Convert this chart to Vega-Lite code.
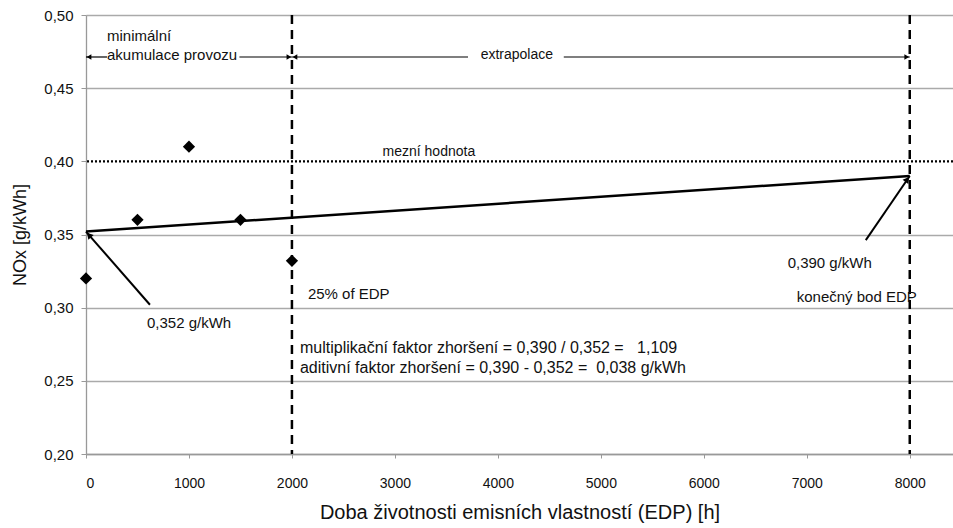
{
  "$schema": "https://vega.github.io/schema/vega-lite/v6.json",
  "width": 867,
  "height": 439,
  "autosize": "none",
  "padding": {"left": 86, "top": 15, "right": 0, "bottom": 74},
  "background": "white",
  "config": {
    "view": {"stroke": null},
    "font": "Liberation Sans",
    "text": {"font": "Liberation Sans", "fontSize": 15, "color": "#111"}
  },
  "layer": [
    {
      "data": {"values": [{"h": 0, "nox": 0.352}, {"h": 8000, "nox": 0.390}]},
      "mark": {"type": "line", "color": "black", "strokeWidth": 2.5},
      "encoding": {
        "x": {
          "field": "h", "type": "quantitative",
          "scale": {"domain": [0, 8420], "nice": false, "zero": false},
          "axis": {
            "values": [0, 1000, 2000, 3000, 4000, 5000, 6000, 7000, 8000],
            "format": "d",
            "grid": false, "domainColor": "#999", "domainWidth": 1.5,
            "tickColor": "#999", "tickSize": 4, "labelPadding": 18,
            "labelFontSize": 14, "labelColor": "#111", "labelFont": "Liberation Sans",
            "title": "Doba životnosti emisních vlastností (EDP) [h]",
            "titleFontSize": 20, "titleFontWeight": "normal", "titleColor": "#111",
            "titleFont": "Liberation Sans", "titlePadding": 12
          }
        },
        "y": {
          "field": "nox", "type": "quantitative",
          "scale": {"domain": [0.2, 0.5], "nice": false, "zero": false},
          "axis": {
            "values": [0.2, 0.25, 0.3, 0.35, 0.4, 0.45, 0.5],
            "labelExpr": "replace(format(datum.value, '.2f'), '.', ',')",
            "grid": true,
            "gridColor": {"condition": {"test": "abs(datum.value - 0.4) < 0.001", "value": "transparent"}, "value": "#aaa"},
            "gridWidth": 1.3,
            "domainColor": "#999", "domainWidth": 1.3,
            "tickColor": "#999", "tickSize": 5, "labelPadding": 8,
            "labelFontSize": 15, "labelColor": "#111", "labelFont": "Liberation Sans",
            "title": "NOx [g/kWh]",
            "titleFontSize": 18, "titleFontWeight": "normal", "titleColor": "#111",
            "titleFont": "Liberation Sans", "titlePadding": 14
          }
        }
      }
    },
    {
      "data": {"values": [{"h": 2000}, {"h": 8000}]},
      "mark": {"type": "rule", "color": "black", "strokeWidth": 2.5, "strokeDash": [9, 6]},
      "encoding": {"x": {"field": "h", "type": "quantitative"}}
    },
    {
      "data": {"values": [{"nox": 0.4}]},
      "mark": {"type": "rule", "color": "black", "strokeWidth": 2.2, "strokeDash": [2, 2]},
      "encoding": {"y": {"field": "nox", "type": "quantitative"}}
    },
    {
      "data": {"values": [
        {"h": 0, "nox": 0.32},
        {"h": 500, "nox": 0.36},
        {"h": 1000, "nox": 0.41},
        {"h": 1500, "nox": 0.36},
        {"h": 2000, "nox": 0.332}
      ]},
      "mark": {"type": "point", "shape": "diamond", "filled": true, "color": "black", "opacity": 1, "size": 150},
      "encoding": {
        "x": {"field": "h", "type": "quantitative"},
        "y": {"field": "nox", "type": "quantitative"}
      }
    },
    {
      "data": {"values": [
        {"h": 0, "h2": 204, "nox": 0.4713},
        {"h": 1490, "h2": 2000, "nox": 0.4713},
        {"h": 2000, "h2": 3710, "nox": 0.4713},
        {"h": 4640, "h2": 8000, "nox": 0.4713}
      ]},
      "mark": {"type": "rule", "color": "black", "strokeWidth": 1.2},
      "encoding": {
        "x": {"field": "h", "type": "quantitative"},
        "x2": {"field": "h2"},
        "y": {"field": "nox", "type": "quantitative"}
      }
    },
    {
      "data": {"values": [{"h": 0, "nox": 0.4713}, {"h": 2000, "nox": 0.4713}]},
      "mark": {"type": "point", "shape": "triangle-left", "filled": true, "color": "black", "opacity": 1, "size": 30, "xOffset": 3},
      "encoding": {
        "x": {"field": "h", "type": "quantitative"},
        "y": {"field": "nox", "type": "quantitative"}
      }
    },
    {
      "data": {"values": [{"h": 2000, "nox": 0.4713}, {"h": 8000, "nox": 0.4713}]},
      "mark": {"type": "point", "shape": "triangle-right", "filled": true, "color": "black", "opacity": 1, "size": 30, "xOffset": -3},
      "encoding": {
        "x": {"field": "h", "type": "quantitative"},
        "y": {"field": "nox", "type": "quantitative"}
      }
    },
    {
      "data": {"values": [
        {"h": 621, "nox": 0.302, "h2": 0, "nox2": 0.352},
        {"h": 7573, "nox": 0.3462, "h2": 8000, "nox2": 0.390}
      ]},
      "mark": {"type": "rule", "color": "black", "strokeWidth": 2},
      "encoding": {
        "x": {"field": "h", "type": "quantitative"},
        "x2": {"field": "h2"},
        "y": {"field": "nox", "type": "quantitative"},
        "y2": {"field": "nox2"}
      }
    },
    {
      "data": {"values": [{"h": 0, "nox": 0.352}]},
      "mark": {"type": "point", "shape": "triangle-up", "filled": true, "color": "black", "opacity": 1, "size": 50, "angle": 319, "xOffset": 3, "yOffset": 3.5},
      "encoding": {
        "x": {"field": "h", "type": "quantitative"},
        "y": {"field": "nox", "type": "quantitative"}
      }
    },
    {
      "data": {"values": [{"h": 8000, "nox": 0.390}]},
      "mark": {"type": "point", "shape": "triangle-up", "filled": true, "color": "black", "opacity": 1, "size": 50, "angle": 37, "xOffset": -2.5, "yOffset": 3.5},
      "encoding": {
        "x": {"field": "h", "type": "quantitative"},
        "y": {"field": "nox", "type": "quantitative"}
      }
    },
    {
      "data": {"values": [
        {"h": 204, "nox": 0.4855, "label": "minimální"},
        {"h": 204, "nox": 0.4727, "label": "akumulace provozu"},
        {"h": 592, "nox": 0.2895, "label": "0,352 g/kWh"},
        {"h": 2155, "nox": 0.3093, "label": "25% of EDP"}
      ]},
      "mark": {"type": "text", "align": "left", "baseline": "middle", "fontSize": 15},
      "encoding": {
        "x": {"field": "h", "type": "quantitative"},
        "y": {"field": "nox", "type": "quantitative"},
        "text": {"field": "label"}
      }
    },
    {
      "data": {"values": [
        {"h": 2078, "nox": 0.2724, "label": "multiplikační faktor zhoršení = 0,390 / 0,352 =  \u00a0 1,109"},
        {"h": 2078, "nox": 0.2588, "label": "aditivní faktor zhoršení = 0,390 - 0,352 = \u00a00,038 g/kWh"}
      ]},
      "mark": {"type": "text", "align": "left", "baseline": "middle", "fontSize": 16},
      "encoding": {
        "x": {"field": "h", "type": "quantitative"},
        "y": {"field": "nox", "type": "quantitative"},
        "text": {"field": "label"}
      }
    },
    {
      "data": {"values": [
        {"h": 7223, "nox": 0.3305, "label": "0,390 g/kWh"},
        {"h": 7485, "nox": 0.3072, "label": "konečný bod EDP"}
      ]},
      "mark": {"type": "text", "align": "center", "baseline": "middle", "fontSize": 15},
      "encoding": {
        "x": {"field": "h", "type": "quantitative"},
        "y": {"field": "nox", "type": "quantitative"},
        "text": {"field": "label"}
      }
    },
    {
      "data": {"values": [
        {"h": 4184, "nox": 0.4727, "label": "extrapolace"},
        {"h": 3330, "nox": 0.4064, "label": "mezní hodnota"}
      ]},
      "mark": {"type": "text", "align": "center", "baseline": "middle", "fontSize": 14},
      "encoding": {
        "x": {"field": "h", "type": "quantitative"},
        "y": {"field": "nox", "type": "quantitative"},
        "text": {"field": "label"}
      }
    }
  ]
}
